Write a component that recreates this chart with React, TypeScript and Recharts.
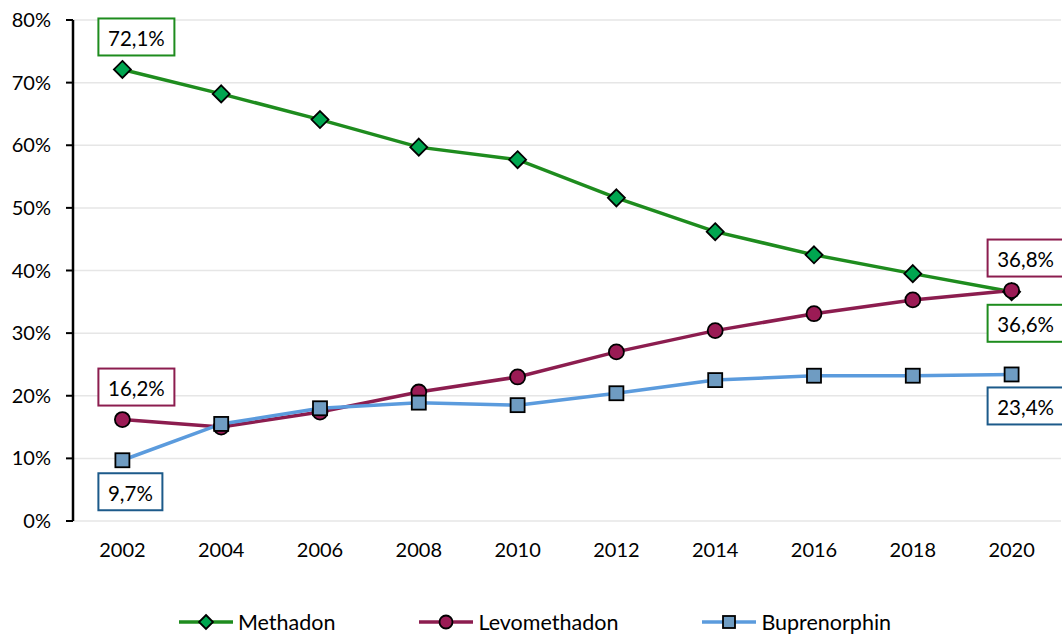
import React from 'react';
import { LineChart, Line, XAxis, YAxis, CartesianGrid, Legend, LabelList } from 'recharts';

// Anteil der Substitutionsmittel, 2002–2020
const years = ['2002', '2004', '2006', '2008', '2010', '2012', '2014', '2016', '2018', '2020'];
const methadon = [72.1, 68.2, 64.1, 59.7, 57.7, 51.6, 46.2, 42.5, 39.5, 36.6];
const levomethadon = [16.2, 15.0, 17.4, 20.6, 23.0, 27.0, 30.4, 33.1, 35.3, 36.8];
const buprenorphin = [9.7, 15.5, 18.0, 18.9, 18.5, 20.4, 22.5, 23.2, 23.2, 23.4];
const yTicks = [0, 10, 20, 30, 40, 50, 60, 70, 80];
const frameTicks = [0, 1, 2, 3, 4, 5, 6, 7, 8, 9, 10];

const data = years.map((year, i) => ({
  year,
  methadon: methadon[i],
  levomethadon: levomethadon[i],
  buprenorphin: buprenorphin[i],
}));

const FONT = 'Lato, "Noto Sans", sans-serif';
const GREEN = '#1E8C1E';
const GREEN_FILL = '#00A650';
const MAROON = '#8C1D4F';
const MAROON_FILL = '#9B1B55';
const BLUE = '#5B9BDD';
const BLUE_FILL = '#6F9CC2';
const BLUE_DARK = '#1C5A8A';

const fmt = (v: number) => v.toFixed(1).replace('.', ',') + '%';

const diamond = (cx: number, cy: number, r: number, key?: string) => (
  <polygon
    key={key}
    points={`${cx},${cy - r} ${cx + r},${cy} ${cx},${cy + r} ${cx - r},${cy}`}
    fill={GREEN_FILL}
    stroke="#000"
    strokeWidth={1.8}
  />
);
const circle = (cx: number, cy: number, r: number, key?: string) => (
  <circle key={key} cx={cx} cy={cy} r={r} fill={MAROON_FILL} stroke="#000" strokeWidth={1.8} />
);
const square = (cx: number, cy: number, r: number, key?: string) => (
  <rect key={key} x={cx - r} y={cy - r} width={r * 2} height={r * 2} fill={BLUE_FILL} stroke="#000" strokeWidth={1.8} />
);

// box label for first and last point only
const makeLabel = (color: string, first: 'above' | 'below', last: 'above' | 'below') => (props: any) => {
  const { x, y, value, index } = props;
  if (index !== 0 && index !== years.length - 1) return null;
  const pos = index === 0 ? first : last;
  const text = fmt(Number(value));
  const w = text.length * 12 + 16;
  const h = 37;
  const left = x - 24;
  const top = pos === 'above' ? y - 14 - h : y + 13;
  return (
    <g key={`lbl-${index}`}>
      <rect x={left} y={top} width={w} height={h} fill="#fff" stroke={color} strokeWidth={2} />
      <text
        x={left + w / 2}
        y={top + h / 2 + 1}
        textAnchor="middle"
        dominantBaseline="central"
        fontSize={20.5}
        fontFamily={FONT}
        fill="#000"
      >
        {text}
      </text>
    </g>
  );
};

const legendItems = [
  { name: 'Methadon', color: GREEN, marker: (cx: number, cy: number) => diamond(cx, cy, 7) },
  { name: 'Levomethadon', color: MAROON, marker: (cx: number, cy: number) => circle(cx, cy, 6.5) },
  { name: 'Buprenorphin', color: BLUE, marker: (cx: number, cy: number) => square(cx, cy, 6) },
];

const renderLegend = () => (
  <div
    style={{
      display: 'flex',
      justifyContent: 'center',
      alignItems: 'center',
      gap: 84,
      height: 30,
      paddingLeft: 9,
      fontFamily: FONT,
      fontSize: 21.5,
      color: '#000',
    }}
  >
    {legendItems.map((it) => (
      <div key={it.name} style={{ display: 'flex', alignItems: 'center' }}>
        <svg width={54} height={20}>
          <line x1={0} y1={10} x2={54} y2={10} stroke={it.color} strokeWidth={3.5} />
          {it.marker(27, 10)}
        </svg>
        <span style={{ marginLeft: 5 }}>{it.name}</span>
      </div>
    ))}
  </div>
);

export default function App() {
  return (
    <div style={{ position: 'absolute', left: 0, top: 0, background: '#fff' }}>
      <LineChart width={1062} height={639} data={data} margin={{ top: 20, right: 1, left: 0, bottom: 2 }}>
        <CartesianGrid xAxisId="cat" vertical={false} stroke="#e6e6e6" strokeWidth={1.5} />
        {/* frame axis: tick marks between the categories */}
        <XAxis
          xAxisId="frame"
          type="number"
          domain={[0, 10]}
          ticks={frameTicks}
          allowDataOverflow
          height={0}
          tickSize={8}
          tick={() => <g />}
          axisLine={{ stroke: '#000', strokeWidth: 2.5 }}
          tickLine={{ stroke: '#000', strokeWidth: 2 }}
        />
        <XAxis
          xAxisId="cat"
          dataKey="year"
          scale="band"
          interval={0}
          height={86}
          axisLine={false}
          tickLine={false}
          tickSize={0}
          tickMargin={22}
          tick={{ fill: '#000', fontSize: 20, fontFamily: FONT }}
        />
        <YAxis
          domain={[0, 80]}
          ticks={yTicks}
          interval={0}
          width={73}
          tickFormatter={(v) => `${v}%`}
          axisLine={{ stroke: '#000', strokeWidth: 2.5 }}
          tickLine={{ stroke: '#000', strokeWidth: 2 }}
          tickSize={7}
          tickMargin={15}
          tick={{ fill: '#000', fontSize: 20, fontFamily: FONT }}
        />
        <Legend verticalAlign="bottom" align="center" content={renderLegend} />
        <Line
          xAxisId="cat"
          dataKey="methadon"
          name="Methadon"
          stroke={GREEN}
          strokeWidth={3.5}
          isAnimationActive={false}
          dot={(p: any) => diamond(p.cx, p.cy, 8.5, `m-${p.index}`)}
        >
          <LabelList dataKey="methadon" content={makeLabel(GREEN, 'above', 'below')} />
        </Line>
        <Line
          xAxisId="cat"
          dataKey="levomethadon"
          name="Levomethadon"
          stroke={MAROON}
          strokeWidth={3.5}
          isAnimationActive={false}
          dot={(p: any) => circle(p.cx, p.cy, 7.5, `l-${p.index}`)}
        >
          <LabelList dataKey="levomethadon" content={makeLabel(MAROON, 'above', 'above')} />
        </Line>
        <Line
          xAxisId="cat"
          dataKey="buprenorphin"
          name="Buprenorphin"
          stroke={BLUE}
          strokeWidth={3.5}
          isAnimationActive={false}
          dot={(p: any) => square(p.cx, p.cy, 7, `b-${p.index}`)}
        >
          <LabelList dataKey="buprenorphin" content={makeLabel(BLUE_DARK, 'below', 'below')} />
        </Line>
      </LineChart>
    </div>
  );
}
